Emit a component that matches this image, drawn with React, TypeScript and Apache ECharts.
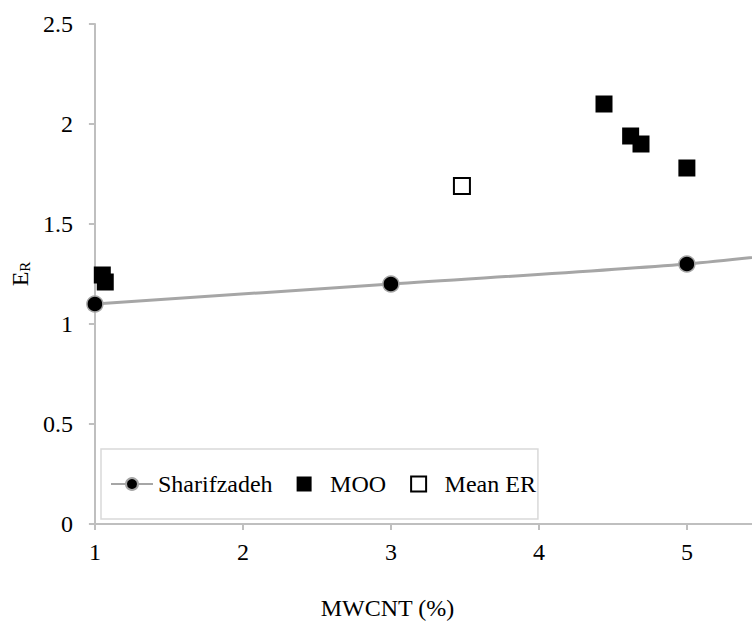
import React, { useEffect, useRef } from "react";
import * as echarts from "echarts";

const sharifX = [1, 3, 5, 6];
const sharifY = [1.1, 1.2, 1.3, 1.38];
const mooX = [1.05, 1.07, 4.44, 4.62, 4.69, 5.0];
const mooY = [1.245, 1.21, 2.1, 1.94, 1.9, 1.78];
const meanX = [3.48];
const meanY = [1.69];
const xTicks = [1, 2, 3, 4, 5];

const FONT = "Liberation Serif";
const SQUARE = "path://M0,0L10,0L10,10L0,10Z";

export default function App() {
  const ref = useRef<HTMLDivElement>(null);
  useEffect(() => {
    if (!ref.current) return;
    const chart = echarts.init(ref.current, null, { renderer: "svg" });
    chart.setOption({
      animation: false,
      backgroundColor: "#ffffff",
      textStyle: { fontFamily: FONT },
      grid: { left: 94, right: 0, top: 24, bottom: 104, containLabel: false },
      legend: {
        left: 101,
        top: 449,
        padding: [23, 2, 23, 9],
        itemGap: 24,
        itemWidth: 42,
        itemHeight: 15,
        symbolKeepAspect: true,
        borderColor: "#d9d9d9",
        borderWidth: 1.5,
        backgroundColor: "#ffffff",
        textStyle: { fontFamily: FONT, fontSize: 24, color: "#000" },
        data: [
          { name: "Sharifzadeh" },
          { name: "MOO", icon: SQUARE },
          { name: "Mean ER", icon: SQUARE },
        ],
      },
      xAxis: {
        type: "value",
        min: 1,
        max: 5.44,
        interval: 1,
        name: "MWCNT (%)",
        nameLocation: "middle",
        nameGap: 72,
        nameTextStyle: { fontFamily: FONT, fontSize: 24, color: "#000", padding: [0, 72, 0, 0] },
        axisLine: { show: true, lineStyle: { color: "#bfbfbf", width: 2 } },
        axisTick: { show: true, length: 6, lineStyle: { color: "#bfbfbf", width: 2 }, customValues: xTicks },
        axisLabel: { fontFamily: FONT, fontSize: 24, color: "#000", margin: 16, customValues: xTicks },
        splitLine: { show: false },
      },
      yAxis: {
        type: "value",
        min: 0,
        max: 2.5,
        interval: 0.5,
        name: "{e|E}{r|R}",
        nameLocation: "middle",
        nameGap: 56,
        nameRotate: 90,
        nameTextStyle: {
          rich: {
            e: { fontFamily: FONT, fontSize: 24, color: "#000" },
            r: { fontFamily: FONT, fontSize: 15, color: "#000", verticalAlign: "bottom", padding: [9, 0, 0, 0] },
          },
        },
        axisLine: { show: true, lineStyle: { color: "#bfbfbf", width: 2 } },
        axisTick: { show: true, length: 6, lineStyle: { color: "#bfbfbf", width: 2 } },
        axisLabel: { fontFamily: FONT, fontSize: 24, color: "#000", margin: 22 },
        splitLine: { show: false },
      },
      series: [
        {
          name: "Sharifzadeh",
          type: "line",
          data: sharifX.map((x, i) => [x, sharifY[i]]),
          smooth: 0.3,
          symbol: "circle",
          symbolSize: 16,
          lineStyle: { color: "#a6a6a6", width: 3 },
          itemStyle: { color: "#000000", borderColor: "#a6a6a6", borderWidth: 1.5 },
          z: 2,
        },
        {
          name: "MOO",
          type: "scatter",
          data: mooX.map((x, i) => [x, mooY[i]]),
          symbol: "rect",
          symbolSize: 17,
          itemStyle: { color: "#000000", opacity: 1 },
          z: 3,
        },
        {
          name: "Mean ER",
          type: "scatter",
          data: meanX.map((x, i) => [x, meanY[i]]),
          symbol: "rect",
          symbolSize: 16,
          itemStyle: { color: "#ffffff", borderColor: "#000000", borderWidth: 2, opacity: 1 },
          z: 3,
        },
      ],
    });
    return () => chart.dispose();
  }, []);
  return (
    <div
      ref={ref}
      style={{ position: "fixed", left: 0, top: 0, width: 752, height: 628 }}
    />
  );
}
